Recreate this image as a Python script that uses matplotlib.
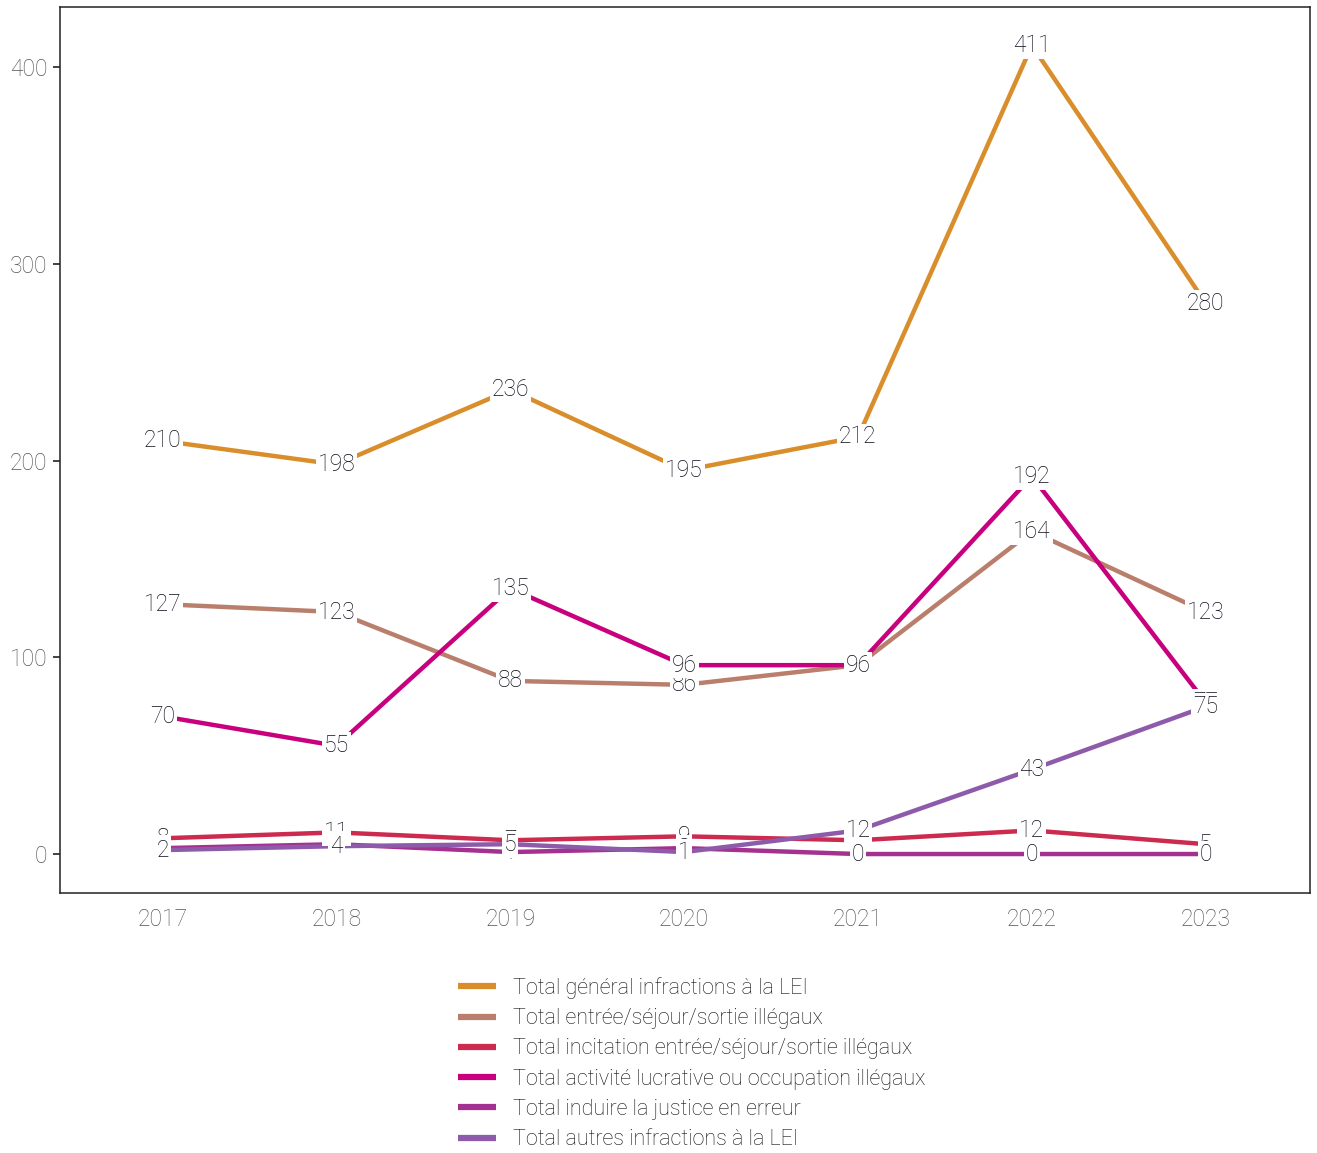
import matplotlib.pyplot as plt
from matplotlib.lines import Line2D

plt.rcParams['font.family'] = ['Roboto', 'DejaVu Sans']
plt.rcParams['font.weight'] = 'light'

# ---------------------------------------------
# DONNÉES
# ---------------------------------------------
years = [2017, 2018, 2019, 2020, 2021, 2022, 2023]

total_general = [210, 198, 236, 195, 212, 411, 280]
total_entree = [127, 123, 88, 86, 96, 164, 123]
total_incitation = [8, 11, 7, 9, 7, 12, 5]
total_activite = [70, 55, 135, 96, 96, 192, 77]
total_induire = [3, 5, 1, 3, 0, 0, 0]
total_autres = [2, 4, 5, 1, 12, 43, 75]

series_names = [
    'Total général infractions à la LEI',
    'Total entrée/séjour/sortie illégaux',
    'Total incitation entrée/séjour/sortie illégaux',
    'Total activité lucrative ou occupation illégaux',
    'Total induire la justice en erreur',
    'Total autres infractions à la LEI',
]
series_values = [total_general, total_entree, total_incitation,
                 total_activite, total_induire, total_autres]
colors = ['#D98E2B', '#B97F6C', '#CC2A4E', '#C8007E', '#A4318F', '#8E5BAA']

# ---------------------------------------------
# FIGURE
# ---------------------------------------------
fig = plt.figure(figsize=(13.17, 11.53), dpi=100)
ax = fig.add_axes([0.0456, 0.2255, 0.9491, 0.7684])

for values, color in zip(series_values, colors):
    ax.plot(years, values, color=color, lw=3.2, solid_capstyle='butt', zorder=2)

# étiquettes (dessinées dans l'ordre, la dernière série au-dessus)
z = 3
for values, color in zip(series_values, colors):
    for x, v in zip(years, values):
        ax.text(x, v, str(v), ha='center', va='center', fontsize=16.5,
                color='#0d0d1a', zorder=z,
                bbox=dict(boxstyle='square,pad=0.08', fc='white', ec='none'))
        z += 0.01

ax.set_xlim(2016.41, 2023.6)
ax.set_ylim(-19.8, 430.5)
ax.set_xticks(years)
ax.set_yticks([0, 100, 200, 300, 400])
ax.tick_params(axis='both', colors='#222222', labelcolor='#555555',
               labelsize=16.5, length=5, width=1.2, pad=4)
ax.tick_params(axis='x', length=0, pad=11)
for s in ax.spines.values():
    s.set_color('#222222')
    s.set_linewidth(1.1)

handles = [Line2D([], [], color=c, lw=4.5, solid_capstyle='butt') for c in colors]
fig.legend(handles, series_names, loc='center left',
           bbox_to_anchor=(0.3332, 0.0775), frameon=False, fontsize=15.5,
           handlelength=1.77, handletextpad=0.78, labelspacing=0.43,
           labelcolor='#111111')

fig.savefig('out.png', dpi=100)
